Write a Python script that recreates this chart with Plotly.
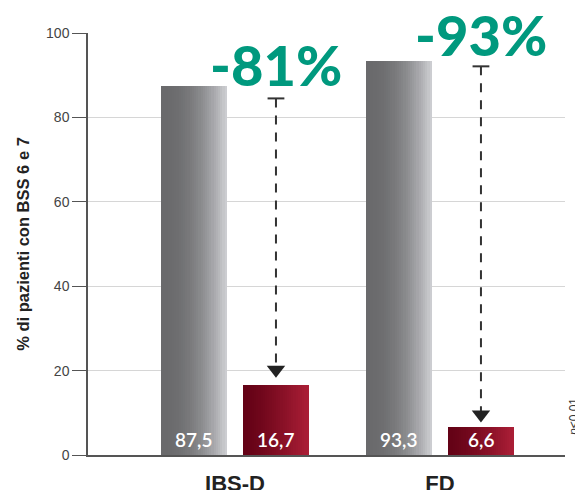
import plotly.graph_objects as go

# ---- data ----
categories = ["IBS-D", "FD"]
before_values = [87.5, 93.3]     # gray bars
after_values = [16.7, 6.6]       # red bars
before_labels = ["87,5", "93,3"]
after_labels = ["16,7", "6,6"]
arrow_start = [84.5, 92.1]       # top of dashed arrows
arrow_gap = [1.6, 1.1]           # gap between arrow tip and red bar top
pct_label_y = [92.5, 99.6]       # vertical centre of the percentage labels
y_ticks = [0, 20, 40, 60, 80, 100]
y_title = "% di pazienti con BSS 6 e 7"
note_text = "<i>p</i>&lt;0,01"

# ---- styling ----
BAR_W = 0.32
OFF_GRAY = -0.36
OFF_RED = 0.04
N_SLICES = 30
GRAY_LEFT, GRAY_RIGHT = (106, 106, 108), (204, 205, 209)
RED_LEFT, RED_RIGHT = (100, 2, 22), (170, 30, 54)
GREEN = "#00997e"
PX_PER_UNIT = 4.22
ARROW_SIZE = 16


def lerp(c1, c2, t):
    return "rgb(%d,%d,%d)" % tuple(round(a + (b - a) * t) for a, b in zip(c1, c2))


xs = list(range(len(categories)))
fig = go.Figure()


def gradient_bars(values, offset, c_left, c_right, power):
    sw = BAR_W / N_SLICES
    for k in range(N_SLICES):
        t = (k / (N_SLICES - 1)) ** power
        fig.add_trace(go.Bar(
            x=xs, y=values, offset=offset + k * sw, width=sw * 1.1,
            marker=dict(color=lerp(c_left, c_right, t), line=dict(width=0)),
            showlegend=False, hoverinfo="skip",
        ))


gradient_bars(before_values, OFF_GRAY, GRAY_LEFT, GRAY_RIGHT, 2.2)
gradient_bars(after_values, OFF_RED, RED_LEFT, RED_RIGHT, 1.3)

# dashed arrows from before to after
for i in xs:
    ax = i + OFF_RED + BAR_W / 2
    tip = after_values[i] + arrow_gap[i]
    head_centre = tip + (ARROW_SIZE / 2) / PX_PER_UNIT
    fig.add_trace(go.Scatter(
        x=[ax, ax], y=[arrow_start[i], head_centre], mode="lines",
        line=dict(color="#333333", width=2, dash="9px,8px"),
        showlegend=False, hoverinfo="skip",
    ))
    fig.add_trace(go.Scatter(
        x=[ax], y=[arrow_start[i]], mode="markers",
        marker=dict(symbol="line-ew", size=12, line=dict(color="#333333", width=2)),
        showlegend=False, hoverinfo="skip",
    ))
    fig.add_trace(go.Scatter(
        x=[ax], y=[head_centre], mode="markers",
        marker=dict(symbol="triangle-down", size=ARROW_SIZE, color="#222222",
                    line=dict(width=0)),
        showlegend=False, hoverinfo="skip",
    ))
    pct = round((after_values[i] - before_values[i]) / before_values[i] * 100)
    fig.add_annotation(
        x=ax, y=pct_label_y[i], text="%d%%" % pct, showarrow=False,
        font=dict(family="Lato", size=56, color=GREEN, weight=900),
        xanchor="center", yanchor="middle",
    )

# value labels inside bars
for i in xs:
    for off, lab in ((OFF_GRAY, before_labels[i]), (OFF_RED, after_labels[i])):
        fig.add_annotation(
            x=i + off + BAR_W / 2, y=0, text=lab, showarrow=False,
            font=dict(family="Lato", size=19, color="white", weight=600),
            xanchor="center", yanchor="bottom", yshift=2,
        )

fig.add_annotation(
    xref="paper", yref="paper", x=1.0, y=0.09, xshift=9, text=note_text, showarrow=False,
    textangle=-90, font=dict(family="Liberation Sans", size=12, color="#333333"),
    xanchor="center", yanchor="middle",
)

# the page body has an 8px margin, so the figure is 8px smaller than the window
fig.update_layout(
    width=575, height=482,
    margin=dict(l=80, r=18, t=25, b=35, autoexpand=False),
    paper_bgcolor="white", plot_bgcolor="white",
    barmode="overlay", bargap=0,
    font=dict(family="Liberation Sans", color="#333333"),
)
fig.update_xaxes(
    range=[-0.717, 1.61], tickvals=xs, ticktext=categories, automargin=False,
    showgrid=False, zeroline=False, showline=True, linecolor="#555555", linewidth=1.5,
    ticks="", ticklabelstandoff=8,
    tickfont=dict(family="Liberation Sans Narrow, Liberation Sans", size=22, color="#222222", weight="bold"),
)
fig.update_yaxes(
    range=[0, 100], tickvals=y_ticks, showgrid=True, gridcolor="#d6d6d6", gridwidth=1,
    zeroline=False, showline=True, linecolor="#555555", linewidth=1.5, automargin=False,
    ticks="outside", ticklen=14, tickcolor="#555555", tickwidth=1.2,
    tickfont=dict(family="Liberation Sans", size=14, color="#444444"),
    title=dict(text=y_title, standoff=12,
               font=dict(family="Liberation Sans", size=16.5, color="#222222", weight="bold")),
)

fig.write_html("out.html")
